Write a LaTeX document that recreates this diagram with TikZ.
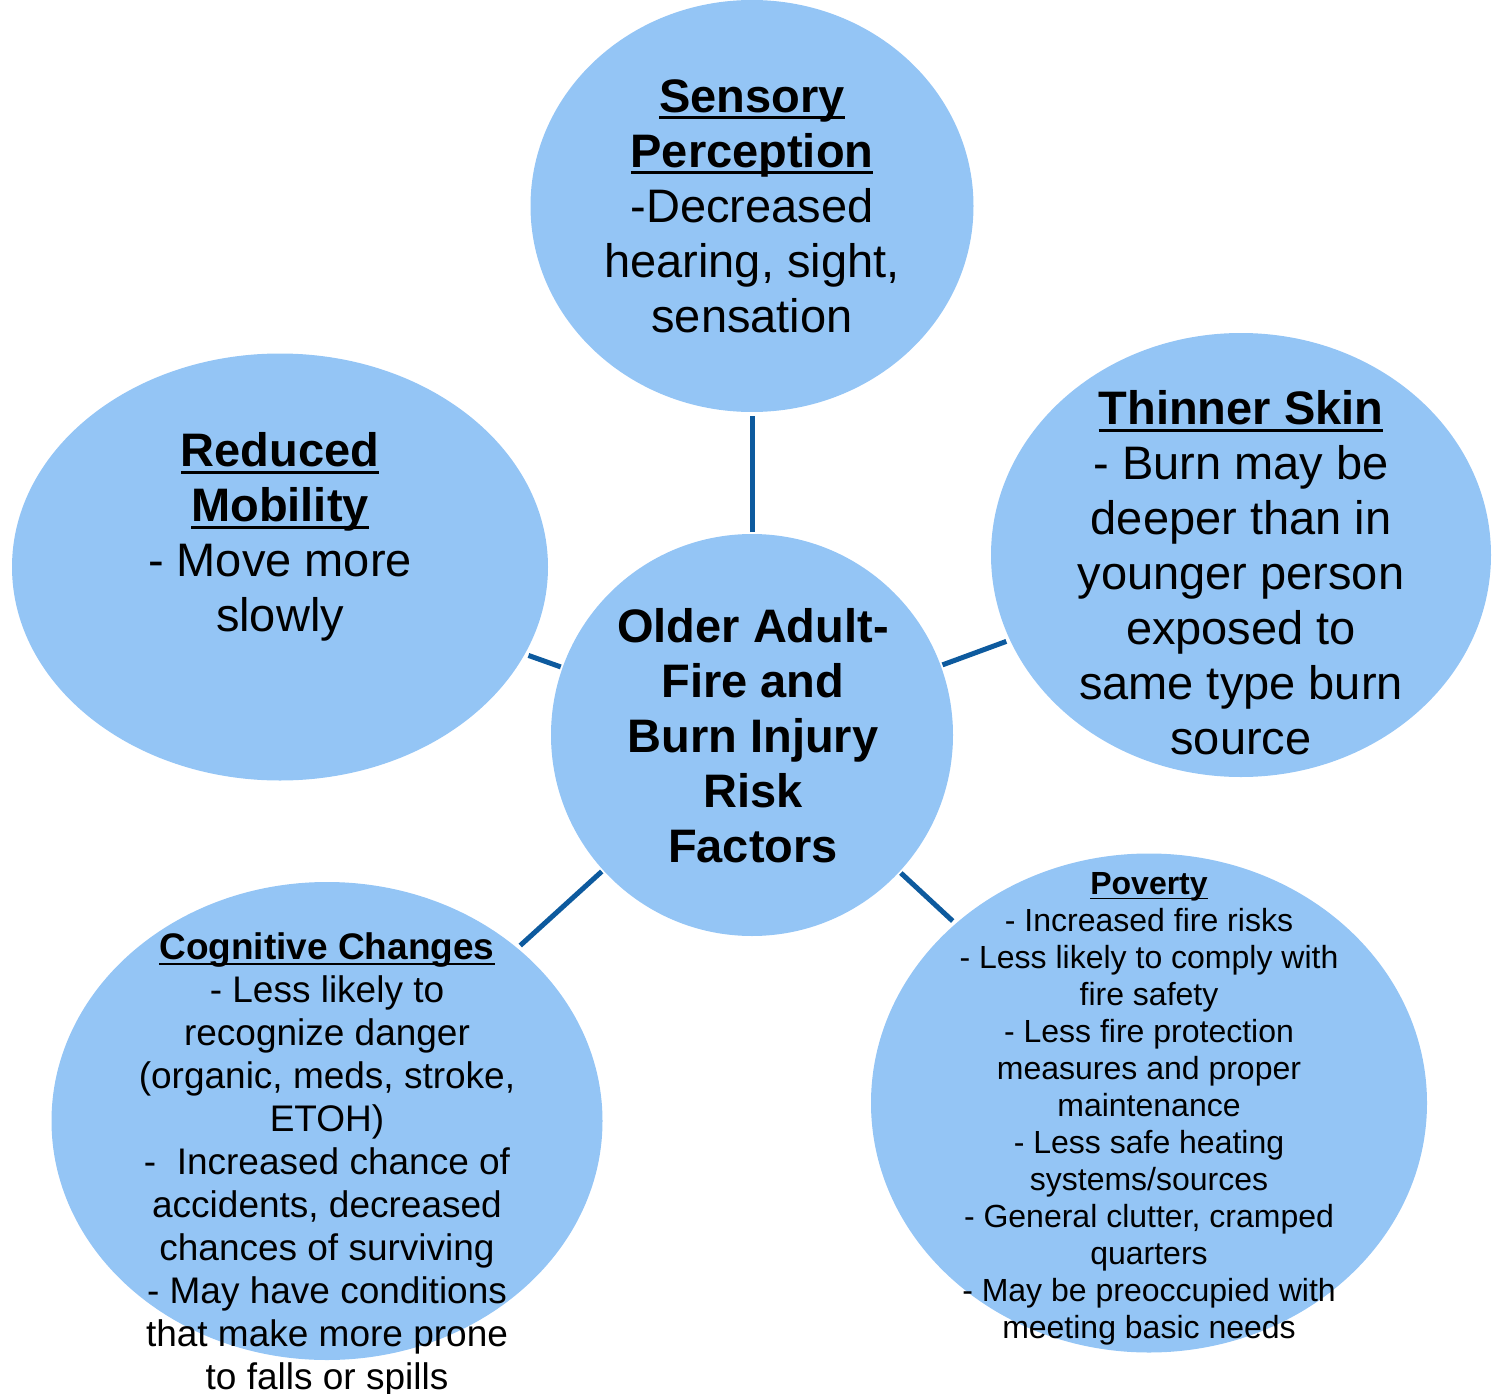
\documentclass[tikz,border=0pt]{standalone}
\usepackage{fontspec}
\setmainfont{Liberation Sans}
\usetikzlibrary{shapes.geometric}
\definecolor{bubblefill}{HTML}{94C5F5}
\definecolor{linkblue}{HTML}{0D5A9E}
\newsavebox\ulsave
\newcommand{\ulin}[1]{\sbox\ulsave{#1}\leavevmode\rlap{\vrule width\wd\ulsave height -0.09em depth 0.15em}\usebox\ulsave}
\tikzset{
  bubble/.style={ellipse, fill=bubblefill, draw=none, inner sep=0pt, outer sep=0pt},
  label/.style={align=center, inner sep=0pt, text=black},
  big/.style={label, font=\fontsize{47}{55}\selectfont},
  mid/.style={label, font=\fontsize{37}{43}\selectfont},
  small/.style={label, font=\fontsize{32}{37}\selectfont},
  link/.style={draw=linkblue, line width=5pt, shorten <=2pt, shorten >=4pt}
}
\begin{document}
\begin{tikzpicture}[x=1pt,y=-1pt]
\useasboundingbox (0,0) rectangle (1492,1394);

% bubbles
\node[bubble, minimum width=443pt, minimum height=412pt] (sens) at (752,206) {};
\node[bubble, minimum width=536pt, minimum height=427pt] (mob) at (280,567) {};
\node[bubble, minimum width=500pt, minimum height=444pt] (skin) at (1241,555) {};
\node[bubble, minimum width=402pt, minimum height=402pt] (ctr) at (752,735) {};
\node[bubble, minimum width=551pt, minimum height=478pt] (cog) at (327,1121) {};
\node[bubble, minimum width=556pt, minimum height=499pt] (pov) at (1149,1103) {};

% connectors from the hub
\draw[link] (ctr) -- (sens);
\draw[link] (ctr) -- (mob);
\draw[link] (ctr) -- (skin);
\draw[link] (ctr) -- (cog);
\draw[link] (ctr) -- (pov);

% texts
\node[big] (senstext) at (752,206) {\ulin{\textbf{Sensory}}\\\ulin{\textbf{Perception}}\\-Decreased\\hearing, sight,\\sensation};
\node[big] (mobtext) at (280,537) {\ulin{\textbf{Reduced}}\\\ulin{\textbf{Mobility}}\\- Move more\\slowly};
\node[big] (skintext) at (1241,573) {\ulin{\textbf{Thinner Skin}}\\- Burn may be\\deeper than in\\younger person\\exposed to\\same type burn\\source};
\node[big, font=\fontsize{47}{55}\selectfont\bfseries] (ctrtext) at (753,736) {Older Adult-\\Fire and\\Burn Injury\\Risk\\Factors};
\node[mid] (cogtext) at (327,1165) {\ulin{\textbf{Cognitive Changes}}\\- Less likely to\\recognize danger\\(organic, meds, stroke,\\ETOH)\\-~ Increased chance of\\accidents, decreased\\chances of surviving\\- May have conditions\\that make more prone\\to falls or spills};
\node[small] (povtext) at (1149,1109) {\ulin{\textbf{Poverty}}\\- Increased fire risks\\- Less likely to comply with\\fire safety\\- Less fire protection\\measures and proper\\maintenance\\- Less safe heating\\systems/sources\\- General clutter, cramped\\quarters\\- May be preoccupied with\\meeting basic needs};
\end{tikzpicture}
\end{document}
